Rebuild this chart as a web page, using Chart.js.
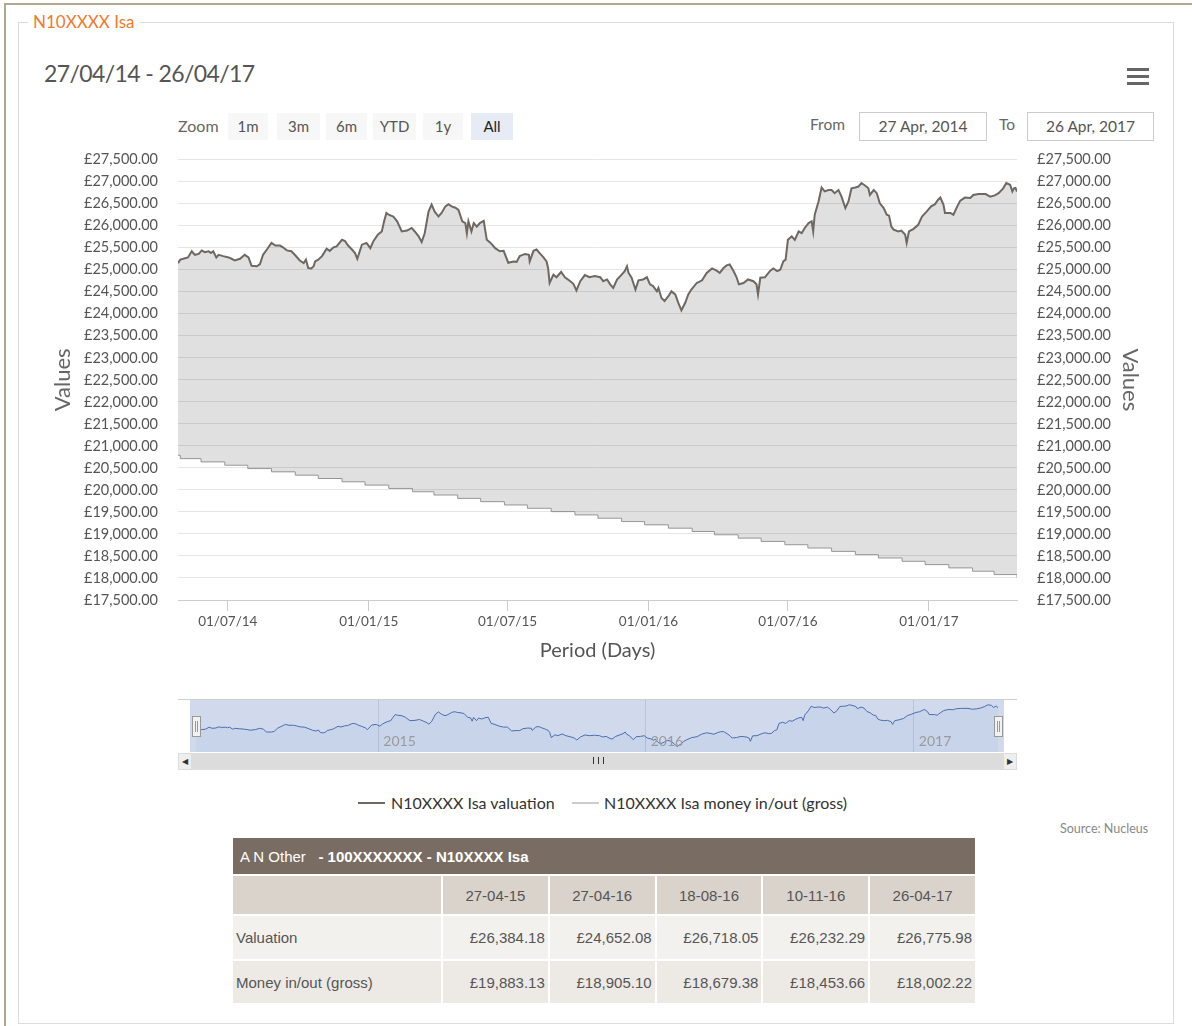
<!DOCTYPE html>
<html lang="en">
<head>
<meta charset="UTF-8">
<title>N10XXXX Isa</title>
<script src="https://cdn.jsdelivr.net/npm/chart.js@4/dist/chart.umd.min.js"></script>
<style>
  html, body { margin: 0; padding: 0; background: #fff; }
  body { width: 1192px; height: 1026px; position: relative; overflow: hidden; font-family: Lato, "Open Sans", sans-serif; color: #555; }
  .abs { position: absolute; }
  .outer { left: 4px; top: 3px; right: 0; bottom: 0; border-top: 2px solid #b3a793; border-left: 2px solid #b3a793; }
  .fieldset { left: 18px; top: 22px; width: 1154px; height: 1000px; border: 1px solid #dcdcdc; }
  .legend-title { left: 28px; top: 11px; padding: 0 5px; background: #fff; color: #f07a2c; font-size: 17px; }
  .period { left: 44px; top: 59px; font-size: 23px; letter-spacing: -0.6px; color: #555; }
  .burger { left: 1127px; top: 68px; width: 22px; }
  .burger div { height: 3px; background: #666; margin-bottom: 4px; }
  .zoomlbl { left: 178px; top: 116px; font-size: 16px; color: #666; }
  .btn { top: 113px; height: 27px; line-height: 27px; background: #f7f7f7; text-align: center; font-size: 15px; color: #555; }
  .btn.sel { background: #e6ebf5; color: #222; }
  .lbl { top: 115px; font-size: 15.5px; color: #666; }
  .inp { top: 112px; height: 27px; line-height: 27px; border: 1px solid #cccccc; text-align: center; font-size: 15.5px; color: #555; }
  .navbg { left: 178px; top: 699px; width: 839px; height: 53px; background: #fff; border-top: 1px solid #cfcfcf; }
  .navmask { left: 190px; top: 700px; width: 814px; height: 52px; background: rgba(102,133,194,0.3); }
  .handle { top: 716px; width: 7px; height: 19px; background: #f2f2f2; border: 1px solid #999; }
  .handle:before, .handle:after { content: ""; position: absolute; top: 4px; width: 1px; height: 11px; background: #999; }
  .handle:before { left: 2px; } .handle:after { left: 4px; }
  .scroll { left: 178px; top: 753px; width: 839px; height: 17px; background: #dcdcdc; }
  .sbtn { top: 753px; width: 14px; height: 17px; background: #eeeeee; border: 1px solid #dcdcdc; box-sizing: border-box; font-size: 8px; line-height: 15px; text-align: center; color: #333; }
  .thumb { top: 757px; left: 593px; width: 9px; height: 7px; border-left: 1px solid #333; border-right: 1px solid #333; }
  .thumb:after { content: ""; position: absolute; left: 4px; top: 0; width: 1px; height: 7px; background: #333; }
  .leg { top: 793px; font-size: 16px; color: #333; white-space: nowrap; }
  .legline { top: 802px; width: 27px; height: 2px; }
  .source { left: 1060px; top: 821px; font-size: 12.5px; color: #888; }
  table.summary { position: absolute; left: 231px; top: 836px; width: 746px; border-collapse: separate; border-spacing: 2px; font-family: "Liberation Sans", Arial, sans-serif; font-size: 15px; color: #555; }
  table.summary td { padding: 0 3px; }
  table.summary .hdr td { background: #796d63; color: #fff; height: 36px; padding-left: 7px; }
  table.summary .cols td { background: #d9d3cb; height: 38px; text-align: center; }
  table.summary .r1 td { background: #f3f1ee; height: 43px; text-align: right; }
  table.summary .r2 td { background: #edeae6; height: 42px; text-align: right; }
  table.summary .r1 td:first-child, table.summary .r2 td:first-child { text-align: left; }
</style>
</head>
<body>
<div class="abs outer"></div>
<div class="abs fieldset"></div>
<div class="abs legend-title">N10XXXX Isa</div>
<div class="abs period">27/04/14 - 26/04/17</div>
<div class="abs burger"><div></div><div></div><div></div></div>

<div class="abs zoomlbl">Zoom</div>
<div class="abs btn" style="left:228px;width:40px">1m</div>
<div class="abs btn" style="left:277px;width:43px">3m</div>
<div class="abs btn" style="left:326px;width:41px">6m</div>
<div class="abs btn" style="left:373px;width:43px">YTD</div>
<div class="abs btn" style="left:423px;width:40px">1y</div>
<div class="abs btn sel" style="left:471px;width:42px">All</div>
<div class="abs lbl" style="left:810px">From</div>
<div class="abs inp" style="left:859px;width:126px">27 Apr, 2014</div>
<div class="abs lbl" style="left:999px">To</div>
<div class="abs inp" style="left:1027px;width:125px">26 Apr, 2017</div>

<canvas id="main" class="abs" style="left:40px;top:131px" width="1120" height="539"></canvas>

<div class="abs navbg"></div>
<div class="abs navmask"></div>
<canvas id="nav" class="abs" style="left:196px;top:700px" width="802" height="52"></canvas>
<div class="abs handle" style="left:192px"></div>
<div class="abs handle" style="left:994px"></div>
<div class="abs scroll"></div>
<div class="abs sbtn" style="left:178px">&#9664;</div>
<div class="abs sbtn" style="left:1003px">&#9654;</div>
<div class="abs thumb"></div>

<div class="abs legline" style="left:358px;background:#6f6862"></div>
<div class="abs leg" style="left:391px">N10XXXX Isa valuation</div>
<div class="abs legline" style="left:572px;background:#cccccc"></div>
<div class="abs leg" style="left:604px">N10XXXX Isa money in/out (gross)</div>
<div class="abs source">Source: Nucleus</div>

<table class="summary">
  <tr class="hdr"><td colspan="6">A N Other &nbsp;&nbsp;<b>- 100XXXXXXX - N10XXXX Isa</b></td></tr>
  <tr class="cols"><td style="width:202px"></td><td>27-04-15</td><td>27-04-16</td><td>18-08-16</td><td>10-11-16</td><td>26-04-17</td></tr>
  <tr class="r1"><td>Valuation</td><td>£26,384.18</td><td>£24,652.08</td><td>£26,718.05</td><td>£26,232.29</td><td>£26,775.98</td></tr>
  <tr class="r2"><td>Money in/out (gross)</td><td>£19,883.13</td><td>£18,905.10</td><td>£18,679.38</td><td>£18,453.66</td><td>£18,002.22</td></tr>
</table>

<script>
// x values are days counted from the first date of the period
const startDate = '2014-04-27';
const endDay = 1095; // 26/04/17

// valuation
const valDays = [0,3,7,13,18,22,27,31,35,40,43,46,50,53,59,66,70,74,81,87,92,96,103,107,111,116,122,127,133,137,142,148,153,159,164,167,170,174,177,179,183,188,194,198,203,207,214,218,222,227,231,234,240,246,251,255,261,266,269,272,275,281,286,292,299,305,309,314,318,322,327,331,335,340,344,349,353,357,362,366,371,375,377,379,383,386,390,394,399,403,408,414,420,425,431,438,442,446,453,458,459,464,468,472,477,481,483,485,490,494,500,505,512,516,520,525,531,537,544,551,555,560,564,568,573,579,583,586,588,592,597,601,607,612,616,620,625,627,631,635,640,644,649,653,657,662,666,670,677,684,690,697,703,707,712,716,720,725,729,732,738,744,751,755,757,760,766,773,777,782,786,790,793,796,801,805,810,814,818,823,827,829,831,836,840,844,849,853,857,862,866,871,875,879,884,888,892,897,901,903,908,912,916,921,925,928,931,934,940,944,949,951,954,960,966,971,977,983,988,992,995,999,1001,1008,1012,1017,1021,1027,1034,1038,1045,1054,1060,1066,1071,1077,1081,1086,1089,1091,1093,1095];
const valValues = [25150,25230,25250,25280,25420,25340,25360,25440,25400,25420,25380,25420,25280,25340,25310,25280,25250,25210,25250,25340,25280,25090,25080,25130,25340,25460,25610,25550,25550,25510,25440,25420,25330,25210,25150,25230,25040,25030,25080,25190,25230,25310,25480,25430,25510,25530,25680,25650,25550,25460,25380,25250,25570,25610,25490,25650,25800,25870,26100,26290,26250,26210,26100,25870,25890,25950,25870,25760,25630,25830,26320,26480,26320,26210,26290,26440,26490,26440,26410,26360,26100,26060,25830,26100,25870,26060,25980,26060,26110,25680,25610,25490,25420,25430,25160,25190,25180,25310,25360,25340,25190,25430,25460,25380,25280,25190,25040,24700,24890,24830,24950,24830,24740,24680,24530,24740,24880,24830,24860,24830,24740,24780,24670,24590,24780,24890,24970,25080,24930,24820,24550,24760,24780,24830,24670,24630,24510,24590,24360,24290,24400,24510,24440,24250,24080,24250,24440,24550,24700,24760,24930,25030,24980,24930,25040,25100,25120,24970,24830,24670,24700,24780,24740,24670,24440,24820,24830,24980,25030,24970,25000,25190,25230,25680,25760,25680,25870,25830,25950,26060,26100,25870,26250,26550,26870,26780,26810,26810,26740,26810,26660,26400,26550,26850,26870,26890,26970,26910,26850,26700,26810,26740,26510,26400,26250,26230,25980,25910,25870,25890,25800,25610,25870,25930,26020,26210,26320,26440,26490,26590,26640,26480,26290,26290,26250,26440,26570,26640,26630,26700,26720,26720,26660,26690,26740,26850,26970,26930,26780,26850,26860,26776];

// money in/out (gross): value after each monthly step
const moneyDays = [0,3,30,61,91,122,153,183,214,244,275,306,334,365,395,426,456,487,518,548,579,609,640,671,700,731,761,792,822,853,884,914,945,975,1006,1037,1065,1095];
const moneyValues = [20786.10,20710.86,20635.62,20560.38,20485.14,20409.90,20334.66,20259.42,20184.18,20108.94,20033.70,19958.46,19883.22,19807.98,19732.74,19657.50,19582.26,19507.02,19431.78,19356.54,19281.30,19206.06,19130.82,19055.58,18980.34,18905.10,18829.86,18754.62,18679.38,18604.14,18528.90,18453.66,18378.42,18303.18,18227.94,18152.70,18077.46,18002.22];

const xTickDates = ['2014-07-01','2015-01-01','2015-07-01','2016-01-01','2016-07-01','2017-01-01'];
const xTickLabels = ['01/07/14','01/01/15','01/07/15','01/01/16','01/07/16','01/01/17'];
const navTickDates = ['2015-01-01','2016-01-01','2017-01-01'];
const navTickLabels = ['2015','2016','2017'];
const yMin = 17500, yMax = 27500, yStep = 500;

const DAY = 86400000;
const t0 = Date.parse(startDate);
const toDay = s => Math.round((Date.parse(s) - t0) / DAY);
const xTicks = xTickDates.map(toDay);
const navTicks = navTickDates.map(toDay);

const pts = (xs, ys) => xs.map((x, i) => ({x: x, y: ys[i]}));
const money = v => '£' + v.toLocaleString('en-GB', {minimumFractionDigits: 2, maximumFractionDigits: 2});

Chart.defaults.font.family = 'Lato, "Open Sans", sans-serif';
Chart.defaults.color = '#666';

const yAxis = (pos, width, titlePad) => ({
  position: pos,
  min: yMin, max: yMax,
  ticks: { stepSize: yStep, padding: 20, color: '#555', font: {size: 14.5}, callback: v => money(v) },
  grid: { display: pos === 'left', color: '#e6e6e6', drawTicks: false },
  border: { display: false },
  title: { display: true, text: 'Values', color: '#666', font: {size: 22, lineHeight: 1.2}, padding: {top: titlePad, bottom: 0} },
  afterFit: s => { s.width = width; }
});

new Chart(document.getElementById('main'), {
  type: 'line',
  data: {
    datasets: [
      {
        label: 'N10XXXX Isa valuation',
        data: pts(valDays, valValues),
        borderColor: '#6e6762',
        borderWidth: 2,
        pointRadius: 0,
        fill: '+1',
        backgroundColor: 'rgba(0,0,0,0.12)',
        yAxisID: 'y'
      },
      {
        label: 'N10XXXX Isa money in/out (gross)',
        data: pts(moneyDays, moneyValues),
        borderColor: '#a0a0a0',
        borderWidth: 1,
        pointRadius: 0,
        stepped: true,
        fill: false,
        yAxisID: 'y'
      }
    ]
  },
  options: {
    responsive: false,
    animation: false,
    layout: { padding: { top: 12, left: 0, right: 0, bottom: 0 } },
    plugins: { legend: { display: false }, tooltip: { enabled: false } },
    scales: {
      x: {
        type: 'linear', min: 0, max: endDay,
        afterBuildTicks: s => { s.ticks = xTicks.map(v => ({value: v})); },
        ticks: { padding: 3, color: '#555', font: {size: 13.5}, maxRotation: 0,
                 callback: v => xTickLabels[xTicks.indexOf(v)] },
        grid: { drawOnChartArea: false, drawTicks: true, tickLength: 11, tickColor: '#cccccc' },
        border: { display: true, color: '#cccccc' },
        title: { display: true, text: 'Period (Days)', color: '#555', font: {size: 20, lineHeight: 1.2}, padding: {top: 0, bottom: 7} },
        afterFit: s => { s.height = 70; }
      },
      y: yAxis('left', 138, 10),
      y2: yAxis('right', 143, 17)
    }
  }
});

// year labels of the navigator, placed with its x scale
const navLabels = {
  id: 'navLabels',
  afterDraw(chart) {
    const ctx = chart.ctx, sx = chart.scales.x;
    ctx.save();
    ctx.fillStyle = '#9a9a9a';
    ctx.font = '14px Lato, "Open Sans", sans-serif';
    ctx.textBaseline = 'middle';
    navTicks.forEach((v, i) => ctx.fillText(navTickLabels[i], sx.getPixelForValue(v) + 5, 41));
    ctx.restore();
  }
};

// navigator under the main chart
new Chart(document.getElementById('nav'), {
  type: 'line',
  data: {
    datasets: [{
      data: pts(valDays, valValues),
      borderColor: '#4a6db0',
      borderWidth: 1,
      pointRadius: 0,
      fill: 'start',
      backgroundColor: 'rgba(69,114,167,0.06)'
    }]
  },
  options: {
    responsive: false,
    animation: false,
    layout: { padding: 0 },
    plugins: { legend: { display: false }, tooltip: { enabled: false } },
    scales: {
      x: {
        type: 'linear', min: 0, max: endDay,
        afterBuildTicks: s => { s.ticks = navTicks.map(v => ({value: v})); },
        ticks: { display: false },
        grid: { drawOnChartArea: true, drawTicks: false, color: 'rgba(170,180,200,0.6)' },
        border: { display: false },
        afterFit: s => { s.height = 0; }
      },
      y: { display: false, min: 23700, max: 27300 }
    }
  },
  plugins: [navLabels]
});
</script>
</body>
</html>
